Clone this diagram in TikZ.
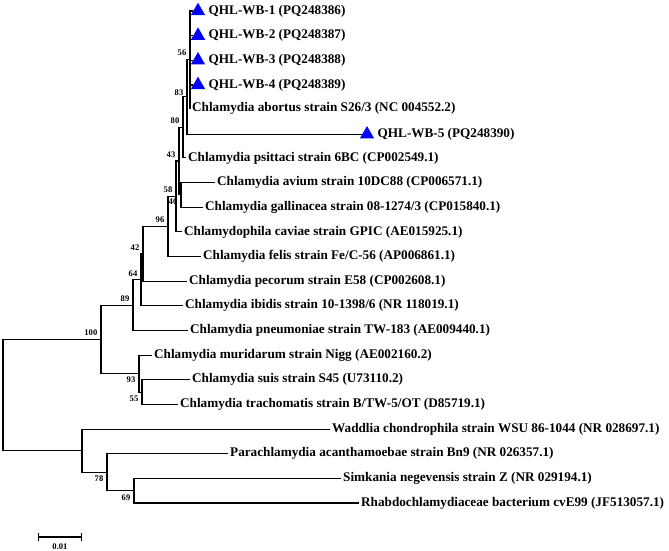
\documentclass[tikz,border=0pt]{standalone}
\usepackage{fontspec}
\setmainfont{Liberation Serif}
\usetikzlibrary{positioning,shapes.geometric}

\begin{document}
\begin{tikzpicture}[
  x=1pt, y=-1pt,
  font=\bfseries\fontsize{13.2}{15}\selectfont,
  node distance=3.5pt,
  leaf/.style={anchor=west, inner sep=2pt},
  tri/.style={regular polygon, regular polygon sides=3, fill=blue, inner sep=0pt, minimum size=16.5pt},
  bsup/.style={anchor=south east, inner sep=3.5pt, font=\bfseries\fontsize{8.6}{10}\selectfont},
  bsdown/.style={anchor=north east, inner sep=3.5pt, font=\bfseries\fontsize{8.6}{10}\selectfont},
  branch/.style={line width=1.1pt}
]
\useasboundingbox (0,0) rectangle (669,551);

% internal nodes of the tree
\coordinate (n56) at (190,59.3);
\coordinate (n83) at (187,96.3);
\coordinate (n80) at (183,127.1);
\coordinate (n40) at (181,194.9);
\coordinate (n43) at (179,161);
\coordinate (n58) at (176,196.4);
\coordinate (n96) at (168,226.5);
\coordinate (n42) at (143,253.8);
\coordinate (n64) at (141,279.8);
\coordinate (n89) at (133,305.1);
\coordinate (n93) at (139,373.6);
\coordinate (n55) at (142,392.1);
\coordinate (n100) at (101,339.4);
\coordinate (nout) at (82,450.7);
\coordinate (n78) at (107,472.2);
\coordinate (n69) at (134,490.7);
\coordinate (root) at (3,395);

% isolates from this study
\node[tri] (m1) at (198,11) {};
\node[tri] (m2) at (198,35.65) {};
\node[tri] (m3) at (198,60.3) {};
\node[tri] (m4) at (198,84.95) {};
\node[tri] (m5) at (367,134.25) {};
\node[leaf, right=of m1] (q1) {QHL-WB-1 (PQ248386)};
\node[leaf, right=of m2] (q2) {QHL-WB-2 (PQ248387)};
\node[leaf, right=of m3] (q3) {QHL-WB-3 (PQ248388)};
\node[leaf, right=of m4] (q4) {QHL-WB-4 (PQ248389)};
\node[leaf, right=of m5] (q5) {QHL-WB-5 (PQ248390)};

% reference strains
\node[leaf] (abo) at (190,108.6) {Chlamydia abortus strain S26/3 (NC 004552.2)};
\node[leaf] (psi) at (186,157.9) {Chlamydia psittaci strain 6BC (CP002549.1)};
\node[leaf] (avi) at (215,182.55) {Chlamydia avium strain 10DC88 (CP006571.1)};
\node[leaf] (gal) at (203,207.2) {Chlamydia gallinacea strain 08-1274/3 (CP015840.1)};
\node[leaf] (cav) at (182,231.85) {Chlamydophila caviae strain GPIC (AE015925.1)};
\node[leaf] (fel) at (201,256.5) {Chlamydia felis strain Fe/C-56 (AP006861.1)};
\node[leaf] (pec) at (187,281.15) {Chlamydia pecorum strain E58 (CP002608.1)};
\node[leaf] (ibi) at (183,305.8) {Chlamydia ibidis strain 10-1398/6 (NR 118019.1)};
\node[leaf] (pne) at (188,330.45) {Chlamydia pneumoniae strain TW-183 (AE009440.1)};
\node[leaf] (mur) at (152,355.1) {Chlamydia muridarum strain Nigg (AE002160.2)};
\node[leaf] (sui) at (190,379.75) {Chlamydia suis strain S45 (U73110.2)};
\node[leaf] (tra) at (178,404.4) {Chlamydia trachomatis strain B/TW-5/OT (D85719.1)};
\node[leaf] (wad) at (330,429.05) {Waddlia chondrophila strain WSU 86-1044 (NR 028697.1)};
\node[leaf] (par) at (228,453.7) {Parachlamydia acanthamoebae strain Bn9 (NR 026357.1)};
\node[leaf] (sim) at (341,478.35) {Simkania negevensis strain Z (NR 029194.1)};
\node[leaf] (rha) at (359,503) {Rhabdochlamydiaceae bacterium cvE99 (JF513057.1)};

% branches
\draw[branch] (n56) |- (m1.west);
\draw[branch] (n56) |- (m2.west);
\draw[branch] (n56) |- (m3.west);
\draw[branch] (n56) |- (m4.west);
\draw[branch] (n56) |- (abo.west);
\draw[branch] (n83) |- (n56);
\draw[branch] (n83) |- (m5.west);
\draw[branch] (n80) |- (n83);
\draw[branch] (n80) |- (psi.west);
\draw[branch] (n40) |- (avi.west);
\draw[branch] (n40) |- (gal.west);
\draw[branch] (n43) |- (n80);
\draw[branch] (n43) |- (n40);
\draw[branch] (n58) |- (n43);
\draw[branch] (n58) |- (cav.west);
\draw[branch] (n96) |- (n58);
\draw[branch] (n96) |- (fel.west);
\draw[branch] (n42) |- (n96);
\draw[branch] (n42) |- (pec.west);
\draw[branch] (n64) |- (n42);
\draw[branch] (n64) |- (ibi.west);
\draw[branch] (n89) |- (n64);
\draw[branch] (n89) |- (pne.west);
\draw[branch] (n55) |- (sui.west);
\draw[branch] (n55) |- (tra.west);
\draw[branch] (n93) |- (mur.west);
\draw[branch] (n93) |- (n55);
\draw[branch] (n100) |- (n89);
\draw[branch] (n100) |- (n93);
\draw[branch] (n69) |- (sim.west);
\draw[branch] (n69) |- (rha.west);
\draw[branch] (n78) |- (par.west);
\draw[branch] (n78) |- (n69);
\draw[branch] (nout) |- (wad.west);
\draw[branch] (nout) |- (n78);
\draw[branch] (root) |- (n100);
\draw[branch] (root) |- (nout);

% bootstrap values
\node[bsup] (b56) at (n56) {56};
\node[bsup, yshift=-3pt] (b83) at (n83) {83};
\node[bsup] (b80) at (n80) {80};
\node[bsup] (b43) at (n43) {43};
\node[bsdown] (b40) at (n40) {40};
\node[bsup] (b58) at (n58) {58};
\node[bsup] (b96) at (n96) {96};
\node[bsup] (b42) at (n42) {42};
\node[bsup] (b64) at (n64) {64};
\node[bsup] (b89) at (n89) {89};
\node[bsup] (b100) at (n100) {100};
\node[bsdown] (b93) at (n93) {93};
\node[bsdown] (b55) at (n55) {55};
\node[bsdown] (b78) at (n78) {78};
\node[bsdown] (b69) at (n69) {69};

% scale bar
\coordinate (sbl) at (38,537);
\coordinate (sbr) at (82,537);
\draw[branch, |-|] (sbl) -- (sbr);
\node[font=\bfseries\fontsize{8.6}{10}\selectfont] (sbt) at (60,547) {0.01};

\end{tikzpicture}
\end{document}
